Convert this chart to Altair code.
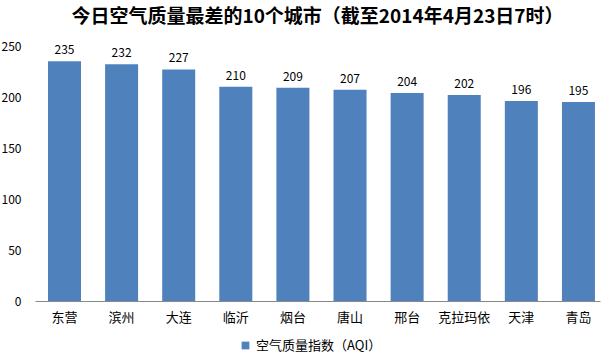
import altair as alt
import pandas as pd

cities = ["东营", "滨州", "大连", "临沂", "烟台", "唐山", "邢台", "克拉玛依", "天津", "青岛"]
aqi = [235, 232, 227, 210, 209, 207, 204, 202, 196, 195]
series_name = "空气质量指数（AQI）"
title_text = "今日空气质量最差的10个城市（截至2014年4月23日7时）"

df = pd.DataFrame({"city": cities, "aqi": aqi, "series": [series_name] * len(cities)})

FONT = "Noto Sans CJK SC"
BLUE = "#4F81BD"

x = alt.X("city:N", sort=cities, title=None,
          scale=alt.Scale(paddingInner=0.422, paddingOuter=0.158, align=0.72),
          axis=alt.Axis(labelAngle=0, labelFontSize=13, labelFont=FONT, labelColor="#000",
                        domainColor="#888", ticks=False, labelPadding=10))

bars = alt.Chart(df).mark_bar(color=BLUE).encode(
    x=x,
    y=alt.Y("aqi:Q", title=None,
            scale=alt.Scale(domain=[0, 250], nice=False),
            axis=alt.Axis(values=[0, 50, 100, 150, 200, 250], grid=False, domain=False,
                          ticks=False, labelPadding=14, labelFontSize=12, labelFont=FONT,
                          labelColor="#000")),
    color=alt.Color("series:N", scale=alt.Scale(range=[BLUE]), title=None,
                    legend=alt.Legend(orient="none", legendX=204, legendY=293,
                                      symbolType="square", symbolSize=60,
                                      labelFontSize=13, labelFont=FONT, labelColor="#000",
                                      symbolStrokeWidth=0)),
)

labels = alt.Chart(df).mark_text(dy=-11, fontSize=12, font=FONT, color="#000").encode(
    x=alt.X("city:N", sort=cities),
    y="aqi:Q",
    text="aqi:Q",
)

chart = (bars + labels).properties(
    width=565, height=255,
    title=alt.TitleParams(title_text, fontSize=19, font=FONT, fontWeight="bold",
                          color="#000", anchor="middle", offset=13),
    autosize=alt.AutoSizeParams(type="none"),
    padding={"left": 35, "top": 46, "right": 2, "bottom": 55},
).configure_view(stroke=None)

chart.save("out.html", embed_options={"renderer": "svg", "actions": False})
